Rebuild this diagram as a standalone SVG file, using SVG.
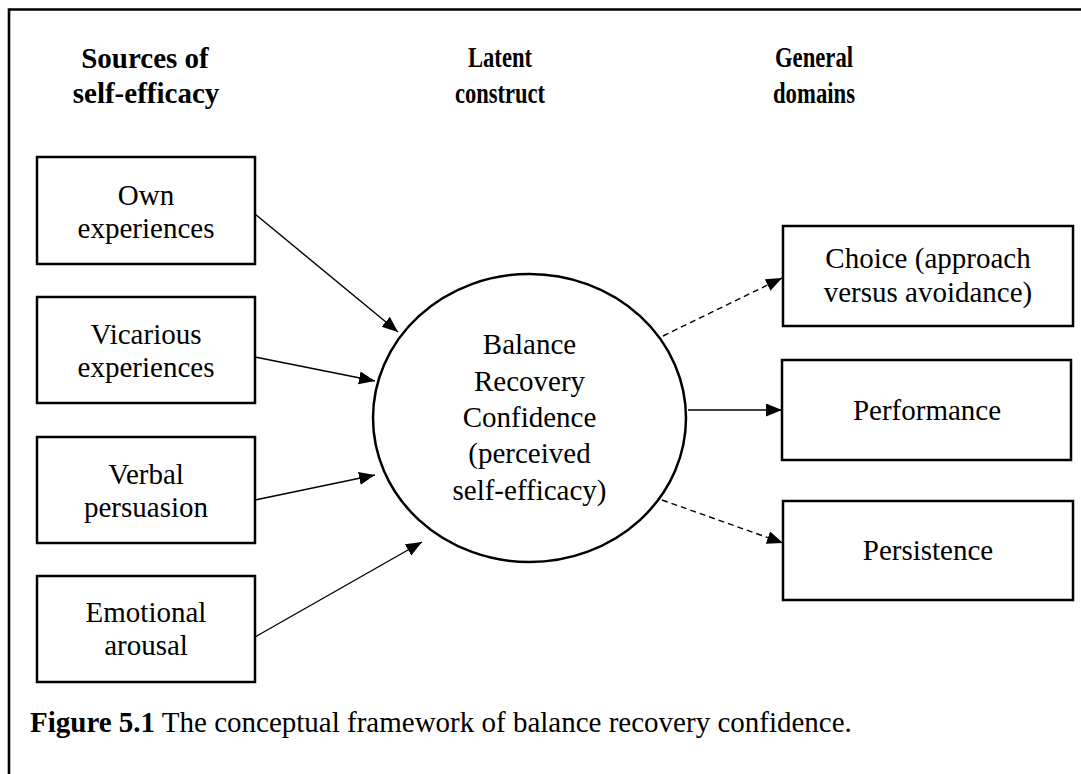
<svg xmlns="http://www.w3.org/2000/svg" width="1081" height="774" viewBox="0 0 1081 774">
  <style>
    .frame { fill: none; stroke: #000; stroke-width: 2.6; }
    .box { fill: #fff; stroke: #000; stroke-width: 2.5; }
    .lbl { font-family: "Liberation Serif", "Times New Roman", serif; font-size: 29px; fill: #000; text-anchor: middle; }
    .hdr { font-family: "Liberation Serif", "Times New Roman", serif; font-size: 29px; font-weight: bold; fill: #000; text-anchor: middle; }
    .cap { font-family: "Liberation Serif", "Times New Roman", serif; font-size: 29px; fill: #000; }
    .edge { fill: none; stroke: #000; stroke-width: 1.4; }
    .dash { stroke-dasharray: 6 4; }
  </style>
  <defs>
    <marker id="arrow" markerUnits="userSpaceOnUse" markerWidth="18" markerHeight="14" refX="16" refY="6.5" orient="auto">
      <path d="M0,0 L16,6.5 L0,13 z" fill="#000"/>
    </marker>
  </defs>

  <rect width="1081" height="774" fill="#fff"/>

  <!-- open frame: top and left rules -->
  <path class="frame" d="M1081,9.5 H9 V774"/>

  <!-- column headings -->
  <g id="headings">
    <text class="hdr" x="145" y="68">Sources of</text>
    <text class="hdr" x="146" y="103">self-efficacy</text>
    <text class="hdr" x="500" y="67" textLength="64" lengthAdjust="spacingAndGlyphs">Latent</text>
    <text class="hdr" x="500" y="103" textLength="90" lengthAdjust="spacingAndGlyphs">construct</text>
    <text class="hdr" x="814" y="67" textLength="78" lengthAdjust="spacingAndGlyphs">General</text>
    <text class="hdr" x="814" y="103" textLength="82" lengthAdjust="spacingAndGlyphs">domains</text>
  </g>

  <!-- sources -->
  <g id="own-experiences">
    <rect class="box" x="37" y="157" width="218" height="107"/>
    <text class="lbl" x="146" y="205">Own</text>
    <text class="lbl" x="146" y="238">experiences</text>
  </g>
  <g id="vicarious-experiences">
    <rect class="box" x="37" y="297" width="218" height="106"/>
    <text class="lbl" x="146" y="344">Vicarious</text>
    <text class="lbl" x="146" y="377">experiences</text>
  </g>
  <g id="verbal-persuasion">
    <rect class="box" x="37" y="437" width="218" height="106"/>
    <text class="lbl" x="146" y="484">Verbal</text>
    <text class="lbl" x="146" y="517">persuasion</text>
  </g>
  <g id="emotional-arousal">
    <rect class="box" x="37" y="576" width="218" height="106"/>
    <text class="lbl" x="146" y="622">Emotional</text>
    <text class="lbl" x="146" y="655">arousal</text>
  </g>

  <!-- latent construct -->
  <g id="balance-recovery-confidence">
    <ellipse class="box" cx="529.5" cy="418" rx="156.5" ry="144"/>
    <text class="lbl" x="529.5" y="354">Balance</text>
    <text class="lbl" x="529.5" y="391">Recovery</text>
    <text class="lbl" x="529.5" y="427">Confidence</text>
    <text class="lbl" x="529.5" y="463">(perceived</text>
    <text class="lbl" x="529.5" y="500">self-efficacy)</text>
  </g>

  <!-- general domains -->
  <g id="choice">
    <rect class="box" x="783" y="226" width="290" height="100"/>
    <text class="lbl" x="928" y="268">Choice (approach</text>
    <text class="lbl" x="928" y="302">versus avoidance)</text>
  </g>
  <g id="performance">
    <rect class="box" x="782" y="360" width="289" height="100"/>
    <text class="lbl" x="927" y="420">Performance</text>
  </g>
  <g id="persistence">
    <rect class="box" x="783" y="501" width="290" height="99"/>
    <text class="lbl" x="928" y="560">Persistence</text>
  </g>

  <!-- connectors -->
  <g id="connectors">
    <line class="edge" x1="255" y1="214" x2="398" y2="332" marker-end="url(#arrow)"/>
    <line class="edge" x1="255" y1="357" x2="375" y2="381" marker-end="url(#arrow)"/>
    <line class="edge" x1="255" y1="500" x2="375" y2="475" marker-end="url(#arrow)"/>
    <line class="edge" x1="255" y1="637" x2="422" y2="542" marker-end="url(#arrow)"/>
    <line class="edge dash" x1="663" y1="336" x2="782" y2="278" marker-end="url(#arrow)"/>
    <line class="edge" x1="688" y1="410" x2="782" y2="410" marker-end="url(#arrow)"/>
    <line class="edge dash" x1="662" y1="500" x2="783" y2="543" marker-end="url(#arrow)"/>
  </g>

  <!-- caption -->
  <text class="cap" x="30" y="732"><tspan font-weight="bold">Figure 5.1</tspan> The conceptual framework of balance recovery confidence.</text>
</svg>
